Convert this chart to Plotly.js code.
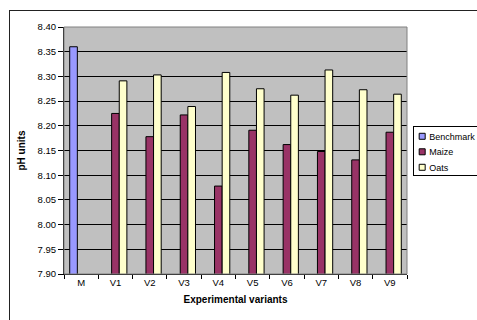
<!DOCTYPE html>
<html>
<head>
<meta charset="utf-8">
<script src="https://cdn.plot.ly/plotly-3.0.1.min.js"></script>
<style>
html,body{margin:0;padding:0;background:#fff;overflow:hidden;}
#wrap{position:relative;width:477px;height:320px;overflow:hidden;}
#chart{width:477px;height:320px;}
#frame{position:absolute;left:9px;top:10px;width:520px;height:400px;border:1px solid #222;pointer-events:none;}
</style>
</head>
<body>
<div id="wrap">
<div id="chart"></div>
<div id="frame"></div>
</div>
<script>
var categories = ["M","V1","V2","V3","V4","V5","V6","V7","V8","V9"];
var benchmark = [8.360, null, null, null, null, null, null, null, null, null];
var maize = [null, 8.225, 8.178, 8.222, 8.078, 8.191, 8.162, 8.148, 8.131, 8.187];
var oats = [null, 8.291, 8.303, 8.239, 8.308, 8.275, 8.262, 8.313, 8.273, 8.264];
var seriesNames = ["Benchmark","Maize","Oats"];
var seriesColors = ["#9999FF","#993366","#FFFFCC"];
var yTicks = [7.90,7.95,8.00,8.05,8.10,8.15,8.20,8.25,8.30,8.35,8.40];

var FONT = "Liberation Sans, Arial, sans-serif";
var series = [benchmark, maize, oats];
var traces = series.map(function(vals, i){
  return {
    type: "bar",
    name: seriesNames[i],
    x: categories,
    y: vals,
    marker: {color: seriesColors[i], line: {color: "#000000", width: 1}},
    hoverinfo: "x+y"
  };
});

var layout = {
  width: 477, height: 320,
  margin: {l: 64, r: 70, t: 27, b: 46, pad: 0, autoexpand: false},
  paper_bgcolor: "#ffffff",
  plot_bgcolor: "#C0C0C0",
  barmode: "group",
  bargap: 0.333,
  bargroupgap: 0,
  font: {family: FONT, size: 9, color: "#000"},
  showlegend: true,
  legend: {
    x: 1.018, xanchor: "left", y: 0.598, yanchor: "top",
    bgcolor: "#ffffff", bordercolor: "#000000", borderwidth: 1,
    font: {family: FONT, size: 9, color: "#000"},
    tracegroupgap: 0
  },
  xaxis: {
    type: "category",
    showline: true, linecolor: "#000", linewidth: 1,
    ticks: "outside", tickson: "boundaries", ticklen: 4, tickcolor: "#000",
    showgrid: false, zeroline: false,
    tickfont: {family: FONT, size: 9.5, color: "#000"},
    title: {text: "<b>Experimental variants</b>", font: {family: FONT, size: 10, color: "#000"}, standoff: 8}
  },
  yaxis: {
    range: [7.90, 8.40],
    tickvals: yTicks,
    ticktext: yTicks.map(function(v){return v.toFixed(2);}),
    showline: true, linecolor: "#000", linewidth: 1,
    ticks: "outside", ticklen: 5, tickcolor: "#000",
    showgrid: true, gridcolor: "#000000", gridwidth: 1,
    zeroline: false,
    tickfont: {family: FONT, size: 9.5, color: "#000"},
    title: {text: "<b>pH units</b>", font: {family: FONT, size: 10, color: "#000"}, standoff: 10}
  },
  shapes: [
    {type: "rect", xref: "paper", yref: "paper", x0: 0, x1: 1, y0: 0, y1: 1,
     line: {color: "#808080", width: 1}, fillcolor: "rgba(0,0,0,0)", layer: "above"}
  ]
};

Plotly.newPlot("chart", traces, layout, {displayModeBar: false, staticPlot: true}).then(function(gd){
  gd.querySelectorAll(".legend .legendtext").forEach(function(t){ t.setAttribute("x", 15); });
  gd.querySelectorAll(".legend .legendpoints path").forEach(function(p){
    p.setAttribute("d", "M3,3H-3V-3H3Z");
    p.setAttribute("transform", "translate(8,0)");
  });
  var items = gd.querySelectorAll(".legend .traces");
  var rowH = 15.5, y0 = 10;
  items.forEach(function(g, i){
    var tr = g.getAttribute("transform") || "";
    var m = tr.match(/translate\(([-\d.]+)[ ,]+([-\d.]+)\)/);
    var x = m ? parseFloat(m[1]) : 1;
    g.setAttribute("transform", "translate(" + x + "," + (y0 + i * rowH) + ")");
  });
  var bg = gd.querySelector(".legend rect.bg");
  if (bg) { bg.setAttribute("height", 49); bg.setAttribute("width", 120); }
});
</script>
</body>
</html>
